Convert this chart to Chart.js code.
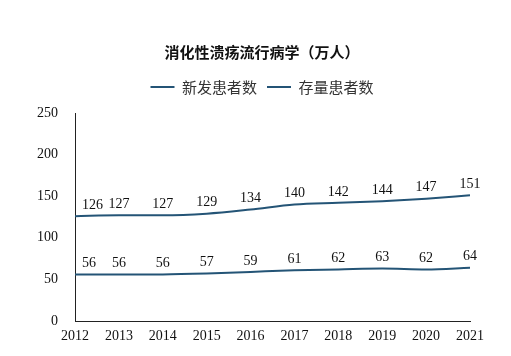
<!DOCTYPE html>
<html><head><meta charset="utf-8">
<script src="https://cdn.jsdelivr.net/npm/chart.js@4"></script>
<style>html,body{margin:0;padding:0;background:#fff}#wrap{width:511px;height:356px}</style>
</head><body><div id="wrap"><canvas id="c" width="511" height="356"></canvas></div>
<script>
const years = ['2012','2013','2014','2015','2016','2017','2018','2019','2020','2021'];
const newPatients = [56,56,56,57,59,61,62,63,62,64];
const existingPatients = [126,127,127,129,134,140,142,144,147,151];
const yTicks = [0,50,100,150,200,250];
const seriesNames = ['新发患者数','存量患者数'];
const titleText = '消化性溃疡流行病学（万人）';

const lineColor = '#245476';
const serif = '"Liberation Serif","Times New Roman",serif';
const cjk = '"Noto Sans CJK SC","Noto Sans",sans-serif';

const labelPlugin = {
  id:'dataLabels',
  afterDatasetsDraw(chart){
    const ctx = chart.ctx;
    const area = chart.chartArea;
    ctx.save();
    ctx.font = '14px ' + serif;
    ctx.fillStyle = '#111';
    ctx.textAlign = 'center';
    ctx.textBaseline = 'bottom';
    chart.data.datasets.forEach((ds,i)=>{
      chart.getDatasetMeta(i).data.forEach((pt,j)=>{
        const txt = String(ds.data[j]);
        const w = ctx.measureText(txt).width;
        let x = pt.x;
        if (x - w/2 < area.left + 7) x = area.left + 7 + w/2;
        ctx.fillText(txt, x, pt.y - 4);
      });
    });
    ctx.restore();
  }
};

new Chart(document.getElementById('c'), {
  type:'line',
  data:{
    labels: years,
    datasets:[
      {label: seriesNames[0], data: newPatients, borderColor: lineColor, backgroundColor: lineColor, borderWidth:2, pointRadius:0, tension:0.4, cubicInterpolationMode:'monotone', yAxisID:'y'},
      {label: seriesNames[1], data: existingPatients, borderColor: lineColor, backgroundColor: lineColor, borderWidth:2, pointRadius:0, tension:0.4, cubicInterpolationMode:'monotone', yAxisID:'y'}
    ]
  },
  options:{
    responsive:false,
    animation:false,
    devicePixelRatio:1,
    layout:{padding:{left:13,right:0,top:0,bottom:0}},
    plugins:{
      tooltip:{enabled:false},
      title:{display:true, text:titleText, color:'#111', font:{family:cjk, size:15, weight:'bold', lineHeight:1.2}, padding:{top:43,bottom:8.5}},
      subtitle:{display:true, text:'', weight:500, font:{size:1, lineHeight:1}, padding:{top:7.5,bottom:0}},
      legend:{display:true, labels:{color:'#333', font:{family:cjk, size:15}, boxWidth:24, boxHeight:2, padding:10,
        generateLabels(chart){
          const items = Chart.defaults.plugins.legend.labels.generateLabels(chart);
          items.forEach(it=>{ it.lineWidth = 0; it.fillStyle = lineColor; });
          return items;
        }}}
    },
    scales:{
      x:{
        offset:false,
        grid:{display:false, drawTicks:false},
        border:{display:true, color:'#222', width:1},
        ticks:{color:'#111', font:{family:serif, size:14}, padding:7, maxRotation:0, autoSkip:false},
        afterFit(s){ s.height = 35; }
      },
      y:{
        position:'left',
        min:0, max:250,
        afterBuildTicks(s){ s.ticks = yTicks.map(v=>({value:v})); },
        grid:{display:false, drawOnChartArea:false, drawTicks:true, tickLength:5, tickColor:'#222'},
        border:{display:true, color:'#222', width:1},
        ticks:{color:'#111', font:{family:serif, size:14}, padding:12},
        afterFit(s){ s.width = 62; }
      },
      yRight:{
        position:'right',
        display:true,
        min:0, max:250,
        grid:{display:false, drawTicks:false},
        border:{display:false},
        ticks:{display:false},
        afterFit(s){ s.width = 41; }
      }
    }
  },
  plugins:[labelPlugin]
});
</script></body></html>
